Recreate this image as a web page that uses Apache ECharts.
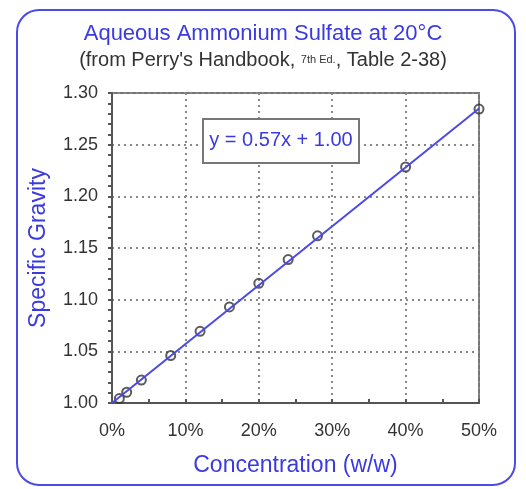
<!DOCTYPE html>
<html>
<head>
<meta charset="utf-8">
<script src="https://cdn.jsdelivr.net/npm/echarts@6/dist/echarts.min.js"></script>
<style>
  html, body { margin: 0; padding: 0; background: #fff; }
  #chart { width: 526px; height: 489px; }
</style>
</head>
<body>
<div id="chart"></div>
<script>
// data (Perry's table 2-38)
var concentration = [0.01, 0.02, 0.04, 0.08, 0.12, 0.16, 0.20, 0.24, 0.28, 0.40, 0.50];
var specificGravity = [1.0043, 1.0104, 1.0222, 1.0459, 1.0694, 1.0930, 1.1158, 1.1388, 1.1618, 1.2284, 1.2844];
var fitSlope = 0.57;
var fitIntercept = 1.00;
var fitRange = [0, 0.50];

var blue = '#3a3ae0';
var textGrey = '#333';
var font = 'Liberation Sans, Arial, sans-serif';

var chart = echarts.init(document.getElementById('chart'));

var points = concentration.map(function (c, i) { return [c, specificGravity[i]]; });
var fitLine = fitRange.map(function (x) { return [x, fitIntercept + fitSlope * x]; });

var option = {
    backgroundColor: '#fff',
    animation: false,
    textStyle: { fontFamily: font },
    title: {
        text: 'Aqueous Ammonium Sulfate at 20°C',
        subtext: '{a|(from Perry\'s Handbook, }{b|7th Ed.}{a|, Table 2-38)}',
        left: 'center',
        top: 18,
        itemGap: 5,
        textStyle: { color: blue, fontSize: 22, fontWeight: 'normal' },
        subtextStyle: {
            rich: {
                a: { color: textGrey, fontSize: 20 },
                b: { color: textGrey, fontSize: 11 }
            }
        }
    },
    grid: {
        left: 112, right: 47, top: 93, bottom: 86,
        show: true, borderColor: '#777', borderWidth: 2
    },
    xAxis: {
        type: 'value',
        min: 0, max: 0.5, interval: 0.1,
        name: 'Concentration (w/w)',
        nameLocation: 'middle',
        nameGap: 51,
        nameTextStyle: { color: blue, fontSize: 23 },
        axisLine: { lineStyle: { color: '#555', width: 2 } },
        axisTick: { show: true, inside: true, length: 4, lineStyle: { color: '#555', width: 2 } },
        minorTick: { show: true, splitNumber: 2, length: 4, lineStyle: { color: '#555', width: 2 } },
        axisLabel: {
            color: textGrey, fontSize: 18, margin: 19,
            formatter: function (v) { return Math.round(v * 100) + '%'; }
        },
        splitLine: { show: true, lineStyle: { color: '#888', type: [2, 4], width: 2 } }
    },
    yAxis: {
        type: 'value',
        min: 1.00, max: 1.30, interval: 0.05,
        name: 'Specific Gravity',
        nameLocation: 'middle',
        nameGap: 62,
        nameTextStyle: { color: blue, fontSize: 23 },
        axisLine: { show: true, lineStyle: { color: '#555', width: 2 } },
        axisTick: { show: true, length: 4, lineStyle: { color: '#555', width: 2 } },
        minorTick: { show: true, splitNumber: 5, length: 4, lineStyle: { color: '#555', width: 2 } },
        axisLabel: {
            color: textGrey, fontSize: 18, margin: 14,
            formatter: function (v) { return v.toFixed(2); }
        },
        splitLine: { show: true, lineStyle: { color: '#888', type: [2, 4], width: 2 } }
    },
    series: [
        {
            name: 'data',
            type: 'scatter',
            data: points,
            symbol: 'circle',
            symbolSize: 9,
            itemStyle: { color: 'rgba(255,255,255,0)', borderColor: '#333', borderWidth: 2 },
            z: 2
        },
        {
            name: 'fit',
            type: 'line',
            data: fitLine,
            symbol: 'none',
            lineStyle: { color: '#4a4ae6', width: 2 },
            z: 3
        }
    ],
    graphic: [
        {
            type: 'rect',
            shape: { x: 17, y: 10, width: 498, height: 475, r: 22 },
            style: { fill: 'none', stroke: '#4b4be8', lineWidth: 2 },
            silent: true
        },
        {
            type: 'group',
            left: 202, top: 118,
            z: 100,
            children: [
                {
                    type: 'rect',
                    z: 100,
                    shape: { x: 0, y: 0, width: 156, height: 44 },
                    style: { fill: '#fff', stroke: '#777', lineWidth: 2 }
                },
                {
                    type: 'text',
                    z: 101,
                    x: 78, y: 21,
                    style: {
                        text: 'y = 0.57x + 1.00',
                        fill: blue, fontSize: 20,
                        fontFamily: font,
                        align: 'center', verticalAlign: 'middle'
                    }
                }
            ]
        }
    ]
};

chart.setOption(option);
</script>
</body>
</html>
